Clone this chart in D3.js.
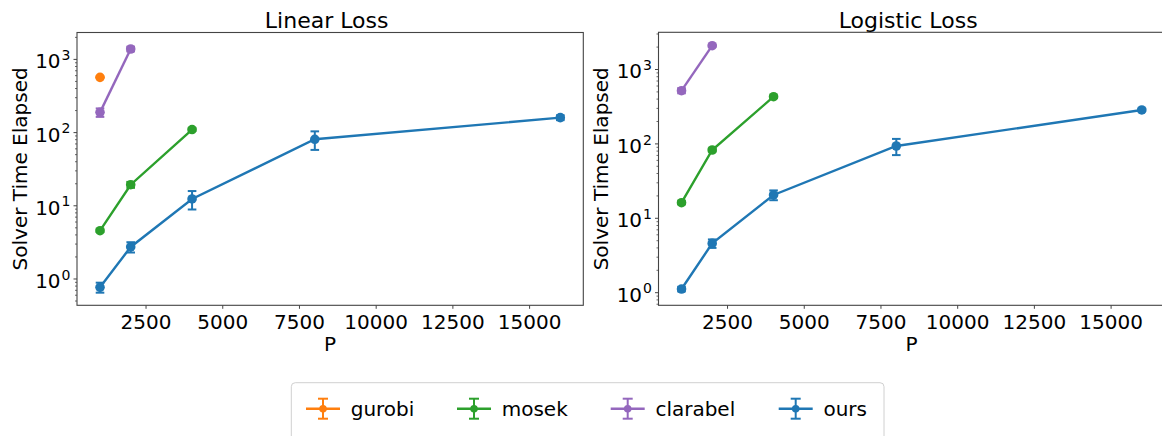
<!DOCTYPE html>
<html>
<head>
<meta charset="utf-8">
<script src="https://cdn.jsdelivr.net/npm/d3@7"></script>
<style>
  body { margin: 0; background: #fff; }
  svg { display: block; }
  text { font-family: "DejaVu Sans", sans-serif; fill: #000; }
</style>
</head>
<body>
<svg id="chart" width="1162" height="436"></svg>
<script>
// Problem sizes P
const sizes = [1000, 2000, 4000, 8000, 16000];
const solverNames = ["gurobi", "mosek", "clarabel", "ours"];
const solverColors = ["#ff7f0e", "#2ca02c", "#9467bd", "#1f77b4"];

// Linear loss: mean solve time (s) and error half-width per size
const linGurobi = [569];
const linGurobiErr = [10];
const linMosek = [4.57, 19.4, 110];
const linMosekErr = [0.2, 1.8, 5];
const linClarabel = [189, 1387];
const linClarabelErr = [25, 100];
const linOurs = [0.77, 2.74, 12.4, 81, 160];
const linOursErr = [0.12, 0.44, 3.5, 23, 12];

// Logistic loss
const logGurobi = [];
const logGurobiErr = [];
const logMosek = [16.2, 82.8, 431];
const logMosekErr = [0.8, 4, 15];
const logClarabel = [519, 2090];
const logClarabelErr = [40, 60];
const logOurs = [1.12, 4.6, 20.6, 93.7, 286];
const logOursErr = [0.08, 0.6, 3.1, 23, 12];

const xTickValues = [2500, 5000, 7500, 10000, 12500, 15000];
const yTickExponents = [0, 1, 2, 3];

const svg = d3.select("#chart");
const axisColor = "#444";

const panels = [
  {
    title: "Linear Loss",
    left: 77, right: 583.3, top: 32.5, bottom: 305.3,
    yDomain: [0.437, 2331],
    series: [
      [linGurobi, linGurobiErr],
      [linMosek, linMosekErr],
      [linClarabel, linClarabelErr],
      [linOurs, linOursErr]
    ]
  },
  {
    title: "Logistic Loss",
    left: 658.5, right: 1164.8, top: 32.3, bottom: 305.3,
    yDomain: [0.677, 3162],
    series: [
      [logGurobi, logGurobiErr],
      [logMosek, logMosekErr],
      [logClarabel, logClarabelErr],
      [logOurs, logOursErr]
    ]
  }
];

panels.forEach(p => {
  const g = svg.append("g");
  const x = d3.scaleLinear().domain([250, 16750]).range([p.left, p.right]);
  const y = d3.scaleLog().domain(p.yDomain).range([p.bottom, p.top]);

  // Series: error bars, connecting line, markers
  p.series.forEach(([vals, errs], si) => {
    const color = solverColors[si];
    const pts = vals.map((v, i) => ({ x: sizes[i], y: v, e: errs[i] }));
    const sg = g.append("g");
    pts.forEach(d => {
      const y0 = y(d.y - d.e), y1 = y(d.y + d.e), cx = x(d.x);
      sg.append("line").attr("x1", cx).attr("x2", cx).attr("y1", y0).attr("y2", y1)
        .attr("stroke", color).attr("stroke-width", 2);
      [y0, y1].forEach(yy => sg.append("line")
        .attr("x1", cx - 4.3).attr("x2", cx + 4.3).attr("y1", yy).attr("y2", yy)
        .attr("stroke", color).attr("stroke-width", 2));
    });
    if (pts.length > 1) {
      sg.append("path")
        .attr("d", d3.line().x(d => x(d.x)).y(d => y(d.y))(pts))
        .attr("fill", "none").attr("stroke", color).attr("stroke-width", 2.4);
    }
    sg.selectAll("circle").data(pts).join("circle")
      .attr("cx", d => x(d.x)).attr("cy", d => y(d.y)).attr("r", 4.8)
      .attr("fill", color);
  });

  // Frame
  g.append("rect")
    .attr("x", p.left).attr("y", p.top)
    .attr("width", p.right - p.left).attr("height", p.bottom - p.top)
    .attr("fill", "none").attr("stroke", axisColor).attr("stroke-width", 1.1);

  // X ticks
  xTickValues.forEach(t => {
    g.append("line").attr("x1", x(t)).attr("x2", x(t))
      .attr("y1", p.bottom).attr("y2", p.bottom + 3.5)
      .attr("stroke", axisColor).attr("stroke-width", 1);
    g.append("text").attr("x", x(t)).attr("y", p.bottom + 24)
      .attr("text-anchor", "middle").attr("font-size", 20).text(t);
  });

  // Y minor ticks
  const [d0, d1] = p.yDomain;
  for (let e = -1; e <= 4; e++) {
    for (let m = 2; m <= 9; m++) {
      const v = m * Math.pow(10, e);
      if (v < d0 || v > d1) continue;
      g.append("line").attr("x1", p.left - 2).attr("x2", p.left)
        .attr("y1", y(v)).attr("y2", y(v))
        .attr("stroke", axisColor).attr("stroke-width", 0.8);
    }
  }
  // Y major ticks with 10^k labels
  yTickExponents.forEach(k => {
    const yy = y(Math.pow(10, k));
    g.append("line").attr("x1", p.left - 3.5).attr("x2", p.left)
      .attr("y1", yy).attr("y2", yy)
      .attr("stroke", axisColor).attr("stroke-width", 1);
    const t = g.append("text").attr("x", p.left - 6.5).attr("y", yy + 9)
      .attr("text-anchor", "end").attr("font-size", 20);
    t.append("tspan").text("10");
    t.append("tspan").attr("font-size", 14).attr("dy", -8.3).attr("dx", 1).text(k);
  });

  // Titles and axis labels
  const cx = (p.left + p.right) / 2;
  g.append("text").attr("x", cx - 3.5).attr("y", 28)
    .attr("text-anchor", "middle").attr("font-size", 22).text(p.title);
  g.append("text").attr("x", cx).attr("y", 351)
    .attr("text-anchor", "middle").attr("font-size", 20).text("P");
  const cy = (p.top + p.bottom) / 2;
  g.append("text")
    .attr("transform", `translate(${p.left - 50.5},${cy}) rotate(-90)`)
    .attr("text-anchor", "middle").attr("font-size", 20).text("Solver Time Elapsed");
});

// Legend
const legend = svg.append("g");
legend.append("rect")
  .attr("x", 291.3).attr("y", 382.7).attr("width", 592.7).attr("height", 60)
  .attr("rx", 4).attr("fill", "#fff").attr("fill-opacity", 0.8)
  .attr("stroke", "#d0d0d0").attr("stroke-width", 1);
const handleX = [306, 457, 610.7, 778.7];
const ly = 408.7;
solverNames.forEach((name, i) => {
  const hx = handleX[i], color = solverColors[i];
  const lg = legend.append("g");
  lg.append("line").attr("x1", hx).attr("x2", hx + 34).attr("y1", ly).attr("y2", ly)
    .attr("stroke", color).attr("stroke-width", 2.4);
  lg.append("line").attr("x1", hx + 17).attr("x2", hx + 17).attr("y1", ly - 10).attr("y2", ly + 10)
    .attr("stroke", color).attr("stroke-width", 2);
  [ly - 10, ly + 10].forEach(yy => lg.append("line")
    .attr("x1", hx + 12).attr("x2", hx + 22).attr("y1", yy).attr("y2", yy)
    .attr("stroke", color).attr("stroke-width", 2));
  lg.append("circle").attr("cx", hx + 17).attr("cy", ly).attr("r", 3.8).attr("fill", color);
  lg.append("text").attr("x", hx + 44.7).attr("y", ly + 7.3)
    .attr("font-size", 20).text(name);
});
</script>
</body>
</html>
